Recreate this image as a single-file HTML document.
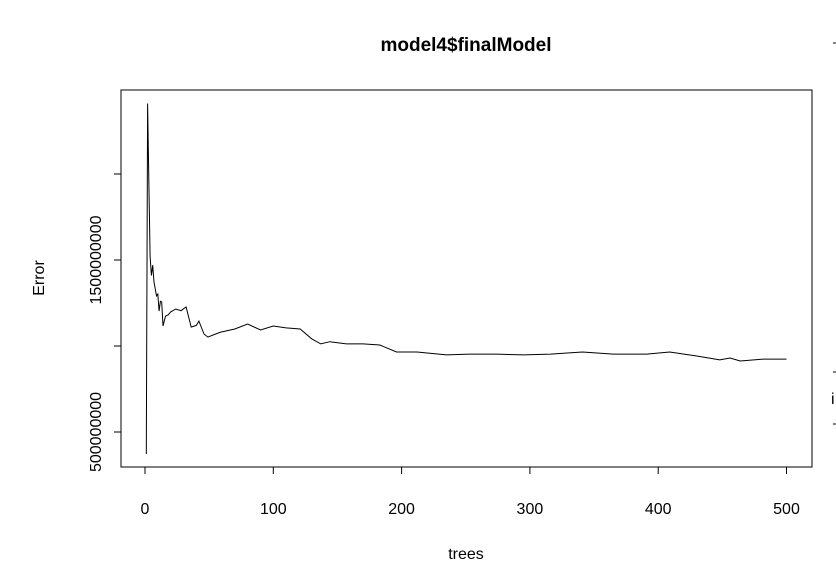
<!DOCTYPE html>
<html><head><meta charset="utf-8"><style>
body{margin:0;background:#fff}
svg{display:block;font-family:"Liberation Sans",sans-serif}
</style></head><body>
<svg id="c" width="836" height="579">
<text x="466" y="51" text-anchor="middle" font-size="19" font-weight="bold">model4$finalModel</text>
<rect x="121" y="90" width="691" height="377" fill="none" stroke="#000"/>
<text x="466" y="559" text-anchor="middle" font-size="16">trees</text>
<text transform="translate(44,278) rotate(-90)" text-anchor="middle" font-size="16">Error</text>
<g id="ax"></g>
<path id="ln" fill="none" stroke="#000" stroke-width="1"/>
<g stroke="#000">
<line x1="833" y1="43" x2="836" y2="43"/><line x1="833" y1="372" x2="836" y2="372"/><line x1="833" y1="424" x2="836" y2="424"/>
</g>
<text x="831" y="404" font-size="16">i</text>
</svg>
<script>
const xTicks=[0,100,200,300,400,500];
const yTicks=[500000000,1000000000,1500000000,2000000000];
const yLabels=["500000000","","1500000000",""];
const trees=[1,2,3,4,5,6,7,8,9,10,11,12,13,14,16,18,20,24,28,32,36,40,42,46,49,55,59,70,80,90,100,110,121,130,137,144,157,170,183,196,212,235,253,274,295,316,341,365,391,409,430,448,456,464,482,500];
const errors=[372,2410,1970,1520,1410,1470,1372,1330,1291,1302,1203,1260,1256,1116,1174,1180,1198,1215,1205,1227,1110,1120,1145,1070,1052,1070,1081,1099,1128,1093,1116,1105,1099,1041,1012,1025,1012,1012,1006,965,965,948,953,953,948,953,965,953,953,965,942,919,930,913,924,924];
const xs=t=>145+t*1.283;
const ys=v=>432-(v-500000000)/500000000*86;
const ax=document.getElementById('ax');
const NS='http://www.w3.org/2000/svg';
function mk(tag,attrs){const e=document.createElementNS(NS,tag);for(const k in attrs)e.setAttribute(k,attrs[k]);ax.appendChild(e);return e;}
mk('line',{x1:xs(0),x2:xs(500),y1:467,y2:467,stroke:'#000'});
xTicks.forEach(t=>{
 const l=mk('line',{x1:xs(t),x2:xs(t),y1:467,y2:474,stroke:'#000'});
 
 
 const tx=mk('text',{x:xs(t),y:514,'text-anchor':'middle','font-size':16});
 tx.textContent=t;
 
 
});
mk('line',{x1:121,x2:121,y1:ys(yTicks[0]),y2:ys(yTicks[3]),stroke:'#000'});
yTicks.forEach((v,i)=>{
 const l=mk('line',{x1:114,x2:121,y1:ys(v),y2:ys(v),stroke:'#000'});
 
 
 if(yLabels[i]){
  const tx=mk('text',{transform:`translate(101,${ys(v)}) rotate(-90)`,'text-anchor':'middle','font-size':16});
  tx.textContent=yLabels[i];
  
  
 }
});
let d='';
trees.forEach((t,i)=>{d+=(i?'L':'M')+xs(t).toFixed(1)+','+ys(errors[i]*1e6).toFixed(1);});
document.getElementById('ln').setAttribute('d',d);
</script>
</body></html>
